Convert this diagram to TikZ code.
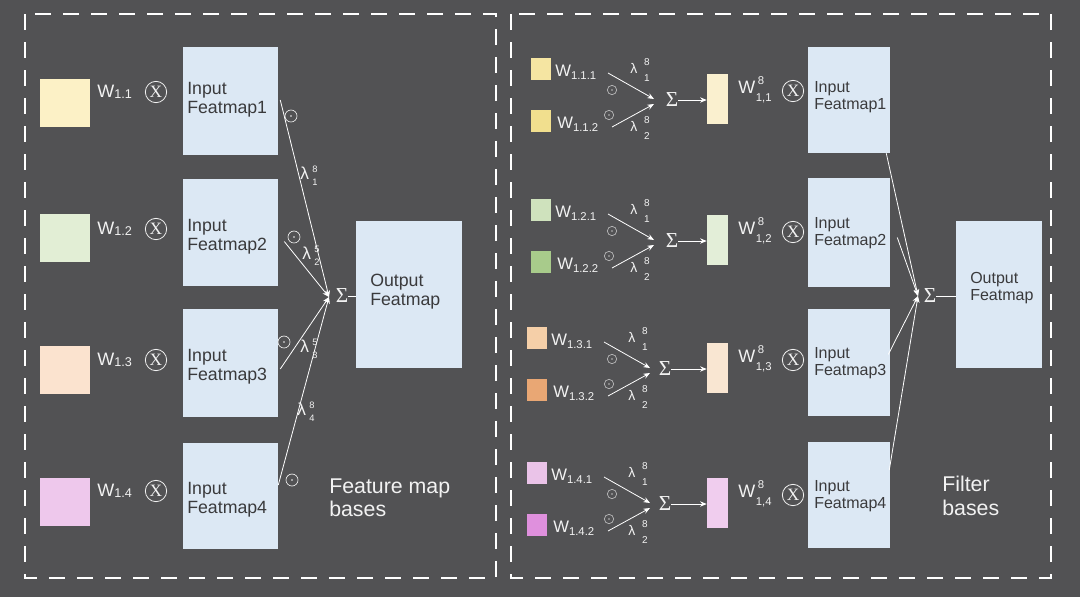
\documentclass[tikz,border=0pt]{standalone}
\usepackage{fontspec}
\setmainfont{Liberation Sans}
\newfontfamily\serifx{Liberation Serif}
\usetikzlibrary{arrows.meta,fit,calc}
\definecolor{bg}{HTML}{525254}
\definecolor{fmblue}{HTML}{DCE8F4}
\definecolor{fmtxt}{HTML}{3A3A3C}
\definecolor{labw}{HTML}{F2F2F2}
\definecolor{labg}{HTML}{BDBDBD}
\definecolor{sqA}{HTML}{FCF1C6}
\definecolor{sqB}{HTML}{E2EED5}
\definecolor{sqC}{HTML}{FBE3CF}
\definecolor{sqD}{HTML}{EEC8EC}
\definecolor{yA}{HTML}{F5E5A2}
\definecolor{yB}{HTML}{F1DF8E}
\definecolor{yR}{HTML}{FAF0CF}
\definecolor{gA}{HTML}{CFE2BD}
\definecolor{gB}{HTML}{A8CB8B}
\definecolor{gR}{HTML}{E3EED8}
\definecolor{pA}{HTML}{F5CFA8}
\definecolor{pB}{HTML}{E9A774}
\definecolor{pR}{HTML}{F9E6D2}
\definecolor{mA}{HTML}{EAC3E8}
\definecolor{mB}{HTML}{DF90DD}
\definecolor{mR}{HTML}{F0CDEE}
\newcommand\wsub[1]{\raisebox{-0.15ex}{\fontsize{9.5}{9.5}\selectfont#1}}
\newcommand\wsubs[1]{\raisebox{-0.3ex}{\fontsize{8.5}{8.5}\selectfont#1}}
\newcommand\lamL[2]{λ\hspace{2.5pt}{\fontsize{7}{7}\selectfont\begin{tabular}[c]{@{}l@{}}#1\\[2.5pt]#2\end{tabular}}}
\newcommand\lamR[2]{λ\hspace{5pt}{\fontsize{7.5}{7.5}\selectfont\begin{tabular}[c]{@{}l@{}}#1\\[4.5pt]#2\end{tabular}}}
\newcommand\wss[2]{W\hspace{0.5pt}{\fontsize{8.5}{8.5}\selectfont\begin{tabular}[c]{@{}l@{}}\hspace{1.5pt}#1\\[4pt]#2\end{tabular}}}
\begin{document}
\begin{tikzpicture}[x=0.75pt,y=-0.75pt,
  fitbox/.style={inner sep=0pt, draw=none},
  fmbox/.style={fitbox, fill=fmblue},
  fmtext/.style={align=left, text=fmtxt, inner sep=0pt, anchor=west},
  wl/.style={text=labw, inner sep=0pt, anchor=west, font=\fontsize{13.5}{13.5}\selectfont},
  wls/.style={text=labw, inner sep=0pt, anchor=west, font=\fontsize{12.5}{12.5}\selectfont},
  cx/.style={circle, draw=labw, line width=0.6pt, minimum size=16pt, inner sep=0pt, text=labw, font=\serifx\fontsize{13}{13}\selectfont},
  od/.style={circle, draw=labw, line width=0.5pt, minimum size=9pt, inner sep=0pt, path picture={\fill[labw] (path picture bounding box.center) circle (0.7pt);}},
  ods/.style={circle, draw=labg, line width=0.5pt, minimum size=7pt, inner sep=0pt, path picture={\fill[labg] (path picture bounding box.center) circle (0.6pt);}},
  conn/.style={draw=white, line width=0.6pt, -{Stealth[length=5pt,width=4pt]}},
  plain/.style={draw=white, line width=0.6pt},
  sig/.style={text=labw, inner sep=0pt, font=\serifx\fontsize{16}{16}\selectfont},
  dashbox/.style={draw=white, line width=2.2pt, dash pattern=on 12pt off 9pt},
  big/.style={text=labw, align=left, inner sep=0pt, anchor=west, font=\fontsize{16}{17.5}\selectfont},
  lamlab/.style={text=labw, inner sep=0pt, font=\fontsize{13}{13}\selectfont},
  lamsm/.style={text=labw, inner sep=0pt, font=\fontsize{10.5}{10.5}\selectfont}
]
\fill[bg] (0,0) rectangle (1080,597);
\useasboundingbox (0,0) rectangle (1080,597);
\draw[dashbox] (25,14) rectangle (496,578);
\draw[dashbox] (511,14) rectangle (1051,578);

% ---------- left: feature map bases ----------
\foreach \i/\sy/\ly/\by/\bh/\ty/\c in {1/79/92/47/155/100/sqA, 2/214/229/179/286/237/sqB, 3/346/360/309/417/367/sqC, 4/478/491/443/549/500/sqD}{
  \node[fitbox, fill=\c, fit={(40,\sy)(90,{\sy+48})}] (ls\i) {};
  \node[wl] (lw\i) at (97,\ly) {W\wsub{1.\i}};
  \node[cx] (lx\i) at (156,\ly) {X};
  \node[fmbox, fit={(183,\by)(278,\bh)}] (lin\i) {};
  \node[fmtext, font=\fontsize{13.3}{14.4}\selectfont] (lt\i) at (187,\ty) {Input\\Featmap\i};
}
\node[fmbox, fit={(356,221)(462,368)}] (lout) {};
\node[fmtext, font=\fontsize{13.3}{14.4}\selectfont] (loutt) at (370,292) {Output\\Featmap};
\coordinate (lconv) at (329,297);
\node[sig] (lsum) at (342,296) {Σ};
\draw[plain] (lsum) -- (lsum -| lout.west);
\draw[conn] ([shift={(2,-1)}]lin1.east) -- (lconv);
\draw[conn] ([shift={(6,9)}]lin2.east) -- (lconv);
\draw[conn] ([shift={(2,6)}]lin3.east) -- (lconv);
\draw[conn] ([shift={(0,-11)}]lin4.east) -- (lconv);
\node[od] (lo1) at (291,116) {};
\node[od] (lo2) at (294,237) {};
\node[od] (lo3) at (284,342) {};
\node[od] (lo4) at (292,480) {};
\node[lamlab] (ll1) at (309,177) {\lamL{8}{1}};
\node[lamlab] (ll2) at (311,257) {\lamL{5}{2}};
\node[lamlab] (ll3) at (309,350) {\lamL{5}{3}};
\node[lamlab] (ll4) at (306,413) {\lamL{8}{4}};
\node[big] (lfb) at (329,498) {Feature map\\bases};

% ---------- right: filter bases ----------
\foreach \i/\y/\dx/\ca/\cb/\rc in {1/58/0/yA/yB/yR, 2/199/0/gA/gB/gR, 3/327/-4/pA/pB/pR, 4/462/-4/mA/mB/mR}{
  \node[fitbox, fill=\ca, fit={({531+\dx},\y)({551+\dx},{\y+22})}] (ra\i) {};
  \node[fitbox, fill=\cb, fit={({531+\dx},{\y+52})({551+\dx},{\y+74})}] (rb\i) {};
  \node[wls] (rwa\i) at ({555+\dx},{\y+14}) {W\wsubs{1.\i.1}};
  \node[wls] (rwb\i) at ({557+\dx},{\y+66}) {W\wsubs{1.\i.2}};
  \coordinate (rsa\i) at ({608+\dx},{\y+15});
  \coordinate (rsb\i) at ({612+\dx},{\y+69});
  \coordinate (rca\i) at ({654+\dx},{\y+41});
  \coordinate (rcb\i) at ({654+\dx},{\y+46});
  \draw[conn] (rsa\i) -- (rca\i);
  \draw[conn] (rsb\i) -- (rcb\i);
  \node[ods] (roa\i) at (612,{\y+32}) {};
  \node[ods] (rob\i) at (609,{\y+57}) {};
  \node[lamsm] (rla\i) at ({640+\dx/2},{\y+13}) {\lamR{8}{1}};
  \node[lamsm] (rlb\i) at ({640+\dx/2},{\y+71}) {\lamR{8}{2}};
  \node[sig] (rs\i) at ({672+\dx*1.75},{\y+42}) {Σ};
  \node[fitbox, fill=\rc, fit={(707,{\y+16})(728,{\y+66})}] (rr\i) {};
  \draw[conn] (rs\i) -- (rs\i -| rr\i.west);
  \node[wl] (rw\i) at (738,{\y+33}) {\wss{8}{1,\i}};
  \node[cx] (rx\i) at (793,{\y+33}) {X};
}
\foreach \i/\by/\bh/\ty in {1/47/153/97, 2/178/287/233, 3/309/416/363, 4/442/548/496}{
  \node[fmbox, fit={(808,\by)(890,\bh)}] (rin\i) {};
  \node[fmtext, font=\fontsize{12}{12.8}\selectfont] (rt\i) at (814,\ty) {Input\\Featmap\i};
}
\node[fmbox, fit={(956,221)(1042,368)}] (rout) {};
\node[fmtext, font=\fontsize{12}{12.8}\selectfont] (routt) at (970,288) {Output\\Featmap};
\coordinate (rconv) at (918,296);
\node[sig] (rsum) at (930,296) {Σ};
\draw[plain] (rsum) -- (rsum -| rout.west);
\draw[conn] ([xshift=-3]rin1.south east) -- (rconv);
\draw[conn] ([shift={(7,5)}]rin2.east) -- (rconv);
\draw[conn] ([shift={(-2,-8)}]rin3.east) -- (rconv);
\draw[conn] ([shift={(-1,-25)}]rin4.east) -- (rconv);
\node[big] (rfb) at (942,496) {Filter\\bases};
\end{tikzpicture}
\end{document}
